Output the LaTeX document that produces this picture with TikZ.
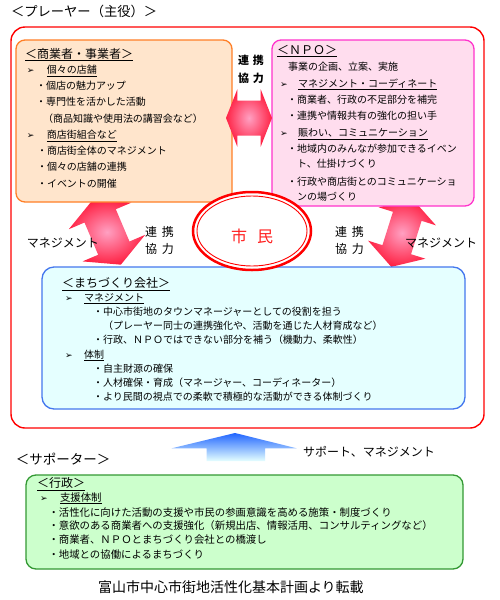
\documentclass[tikz,border=0pt]{standalone}
\usepackage{fontspec}
\setmainfont{Noto Sans CJK JP}
\newfontfamily\dvfont{DejaVu Sans}
\definecolor{orangeline}{HTML}{FF7F27}
\definecolor{orangefill}{HTML}{FFE5CC}
\definecolor{npoline}{HTML}{FF33CC}
\definecolor{npofill}{HTML}{FFDDEE}
\definecolor{blueline}{HTML}{4477EE}
\definecolor{bluefill}{HTML}{E5FFFF}
\definecolor{greenline}{HTML}{339933}
\definecolor{greenfill}{HTML}{CCFFCC}
\definecolor{redline}{HTML}{FF0000}
\definecolor{pinkin}{HTML}{FFA0C2}
\definecolor{pinkout}{HTML}{FF2244}
\definecolor{arrowblue}{HTML}{2266FF}
\definecolor{arrowcyan}{HTML}{E5FFFF}
\definecolor{citred}{HTML}{FF2020}
\newcommand{\mkarrow}[1]{\makebox[#1][l]{\dvfont\fontsize{9}{9}\selectfont ➢}}
\usetikzlibrary{shapes.geometric}
\begin{document}
\begin{tikzpicture}[x=1pt,y=-1pt,
  txt/.style={anchor=base west, inner sep=0pt, outer sep=0pt, font=\fontsize{10}{12}\selectfont, text=black},
  gtxt/.style={txt, font=\fontsize{10.4}{12}\selectfont},
  hdr/.style={txt, font=\fontsize{12}{14}\selectfont},
  lbl/.style={txt, font=\fontsize{12}{14}\selectfont},
  box/.style={line width=1.3pt, rounded corners=9pt},
  pinkarrow/.style={shading=radial, inner color=pinkin, outer color=pinkout}]
\useasboundingbox (0,0) rectangle (500,600);
\fill[white] (0,0) rectangle (500,600);

% outer red frame
\draw[redline, line width=1.4pt, rounded corners=14pt] (11,27) rectangle (484,428);

% diagonal arrows (behind boxes)
\begin{scope}[shift={(107,232)}, rotate=23]
\shade[pinkarrow] (0,-35.5) -- (34,-17.5) -- (17,-17.5) -- (17,17.5) -- (34,17.5) -- (0,35.5) -- (-34,17.5) -- (-17,17.5) -- (-17,-17.5) -- (-34,-17.5) -- cycle;
\end{scope}
\begin{scope}[shift={(402,233)}, rotate=-17.5]
\shade[pinkarrow] (0,-35.5) -- (30,-17.5) -- (15,-17.5) -- (15,17.5) -- (30,17.5) -- (0,35.5) -- (-30,17.5) -- (-15,17.5) -- (-15,-17.5) -- (-30,-17.5) -- cycle;
\end{scope}

% boxes
\draw[box, draw=orangeline, fill=orangefill] (16,40) rectangle (232,202);
\draw[box, draw=npoline, fill=npofill] (272,40) rectangle (474,206);
\draw[box, draw=blueline, fill=bluefill, rounded corners=12pt] (42,267) rectangle (465,409);
\draw[box, draw=greenline, fill=greenfill, rounded corners=10pt] (26,475) rectangle (463,569);

% horizontal double arrow
\shade[pinkarrow] (226,118) -- (237.3,89.3) -- (237.3,100.5) -- (260.7,100.5) -- (260.7,89.3) -- (272,118) -- (260.7,146.7) -- (260.7,135.5) -- (237.3,135.5) -- (237.3,146.7) -- cycle;

% blue up arrow
\shade[top color=arrowblue, bottom color=arrowcyan] (235,433) -- (296.7,448.3) -- (265,448.3) -- (265,461) -- (206.7,461) -- (206.7,448.3) -- (171.7,448.3) -- cycle;

% citizens ellipse
\node[ellipse, draw=redline, line width=2.5pt, fill=white, minimum width=118pt, minimum height=78pt, inner sep=0pt] (cit) at (252,231) {};
\draw[redline, line width=0.9pt] (cit.center) ellipse [x radius=55, y radius=35];
\node[anchor=center, inner sep=0pt, text=citred, font=\fontsize{16}{18}\selectfont] (citt) at (252,236.5) {市\hspace{10pt}民};

% titles and labels
\node[txt, font=\fontsize{13.3}{15}\selectfont] (t0) at (11,16.8) {＜プレーヤー（主役）＞};
\node[txt, font=\fontsize{13.5}{15}\selectfont] (t1) at (16,464.1) {＜サポーター＞};
\node[lbl] (t2) at (303,456.6) {サポート、マネジメント};
\node[lbl] (m1) at (27,247.6) {マネジメント};
\node[lbl] (m2) at (405,247.6) {マネジメント};
\node[txt, font=\fontsize{11}{12}\selectfont\bfseries] (r1) at (238,64.2) {連\hspace{4pt}携};
\node[txt, font=\fontsize{11}{12}\selectfont\bfseries] (r2) at (238,82.5) {協\hspace{4pt}力};
\node[lbl] (r3) at (145,236.3) {連\hspace{5pt}携};
\node[lbl] (r4) at (145,253.6) {協\hspace{5pt}力};
\node[lbl] (r5) at (335,236.3) {連\hspace{5pt}携};
\node[lbl] (r6) at (335,253.6) {協\hspace{5pt}力};
\node[txt, font=\fontsize{14}{16}\selectfont] (cap) at (98,592.3) {富山市中心市街地活性化基本計画より転載};

% orange box text
\node[hdr] (o0) at (25,58.1) {\underline{＜商業者・事業者＞}};
\node[txt] (o1) at (27,73.8) {\mkarrow{20pt}\underline{個々の店舗}};
\node[txt] (o2) at (36,89.8) {・個店の魅力アップ};
\node[txt] (o3) at (36,105.8) {・専門性を活かした活動};
\node[txt] (o4) at (43,122.3) {（商品知識や使用法の講習会など）};
\node[txt] (o5) at (27,138.8) {\mkarrow{20pt}\underline{商店街組合など}};
\node[txt] (o6) at (37,154.8) {・商店街全体のマネジメント};
\node[txt] (o7) at (37,170.8) {・個々の店舗の連携};
\node[txt] (o8) at (37,187.3) {・イベントの開催};

% NPO box text
\node[hdr] (n0) at (277,54.6) {\underline{＜ＮＰＯ＞}};
\node[txt] (n1) at (288,70.5) {事業の企画、立案、実施};
\node[txt] (n2) at (280,87.1) {\mkarrow{18pt}\underline{マネジメント・コーディネート}};
\node[txt] (n3) at (287,103.1) {・商業者、行政の不足部分を補完};
\node[txt] (n4) at (287,119.8) {・連携や情報共有の強化の担い手};
\node[txt] (n5) at (280,136.5) {\mkarrow{18pt}\underline{賑わい、コミュニケーション}};
\node[txt] (n6) at (287,152.1) {・地域内のみんなが参加できるイベン};
\node[txt] (n7) at (297,167.8) {ト、仕掛けづくり};
\node[txt] (n8) at (287,185.5) {・行政や商店街とのコミュニケーショ};
\node[txt] (n9) at (297,200.5) {ンの場づくり};

% machizukuri box text
\node[hdr] (b0) at (62,287.3) {\underline{＜まちづくり会社＞}};
\node[txt] (b1) at (65,301.1) {\mkarrow{19pt}\underline{マネジメント}};
\node[txt] (b2) at (93,315.5) {・中心市街地のタウンマネージャーとしての役割を担う};
\node[txt] (b3) at (103,329.5) {（プレーヤー同士の連携強化や、活動を通じた人材育成など）};
\node[txt] (b4) at (93,343.8) {・行政、ＮＰＯではできない部分を補う（機動力、柔軟性）};
\node[txt] (b5) at (65,358.1) {\mkarrow{19pt}\underline{体制}};
\node[txt] (b6) at (93,372.1) {・自主財源の確保};
\node[txt] (b7) at (93,386.1) {・人材確保・育成（マネージャー、コーディネーター）};
\node[txt] (b8) at (93,400.5) {・より民間の視点での柔軟で積極的な活動ができる体制づくり};

% gyosei box text
\node[hdr] (g0) at (37,487.9) {\underline{＜行政＞}};
\node[gtxt] (g1) at (40,501.1) {\mkarrow{20pt}\underline{支援体制}};
\node[gtxt] (g2) at (48.5,516.1) {・活性化に向けた活動の支援や市民の参画意識を高める施策・制度づくり};
\node[gtxt] (g3) at (48.5,529.8) {・意欲のある商業者への支援強化（新規出店、情報活用、コンサルティングなど）};
\node[gtxt] (g4) at (48.5,543.8) {・商業者、ＮＰＯとまちづくり会社との橋渡し};
\node[gtxt] (g5) at (48.5,558.1) {・地域との協働によるまちづくり};
\end{tikzpicture}
\end{document}
